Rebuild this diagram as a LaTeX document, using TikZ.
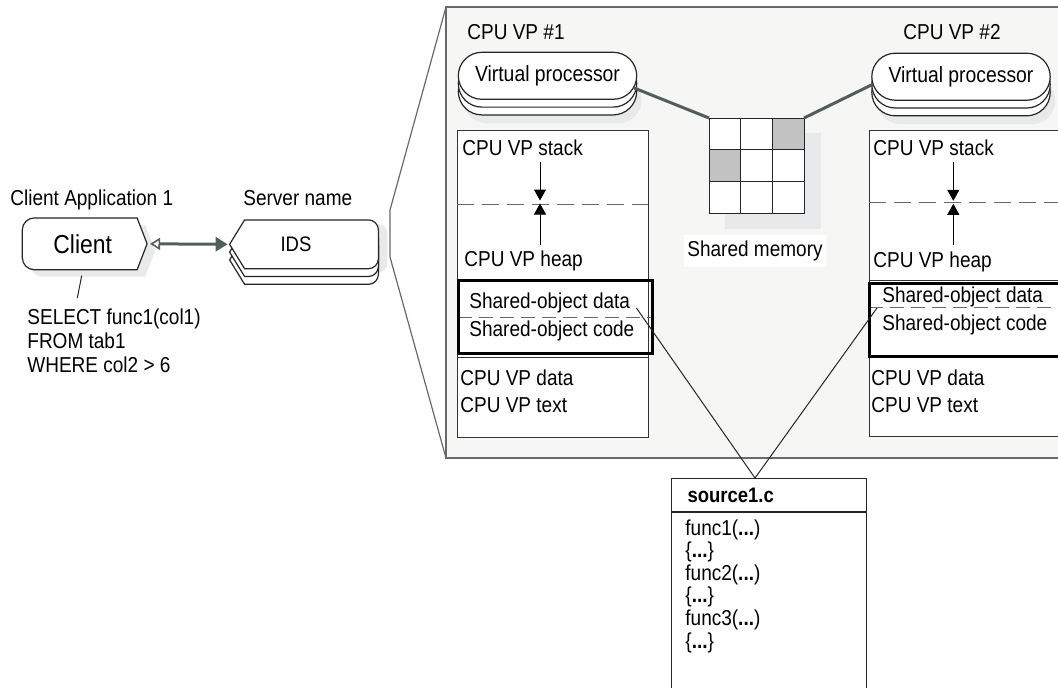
\documentclass[tikz,border=0pt]{standalone}
\usepackage{fontspec}
\setmainfont{Liberation Sans}[FakeStretch=0.88]
\usepackage{xcolor}
\usepackage{tikz}
\usetikzlibrary{arrows.meta, positioning, calc, shapes.misc, shadows, backgrounds}

\definecolor{panelfill}{RGB}{246,246,245}
\definecolor{panelline}{RGB}{105,105,105}
\definecolor{linkgray}{RGB}{82,94,92}
\definecolor{shadowgray}{RGB}{231,233,235}
\definecolor{cellgray}{RGB}{194,194,194}
\definecolor{dashgray}{RGB}{105,105,105}

\begin{document}
\begin{tikzpicture}[
    x=0.5pt, y=-0.5pt,
    txt/.style={inner sep=0pt, font=\fontsize{10.8}{12}\selectfont, anchor=base west},
    outline/.style={draw=black!85, fill=white, line width=0.6pt},
    vproc/.style={rounded rectangle, draw=black!85, fill=white, line width=0.6pt, minimum width=89.2pt, minimum height=23.5pt, inner sep=0pt, font=\fontsize{11}{13}\selectfont,
        general shadow={fill=shadowgray, shadow xshift=2.5pt, shadow yshift=-12pt},
        double copy shadow={shadow xshift=0pt, shadow yshift=-3.9pt}},
    membox/.style={draw=black!80, line width=0.5pt},
    sobox/.style={draw=black, line width=1.5pt},
    splitline/.style={dashgray, dash pattern=on 8.5pt off 4pt, line width=0.5pt},
    splitshort/.style={dashgray, dash pattern=on 7pt off 3.5pt, line width=0.5pt},
    growarrow/.style={-{Triangle[length=5.5pt, width=6pt]}, line width=0.5pt, shorten >=0.75pt},
    link/.style={linkgray, line width=1.5pt},
    cell/.style={draw=black!85, line width=0.5pt, minimum size=15.83pt, inner sep=0pt, outer sep=0pt},
    pointer/.style={black!85, line width=0.5pt}
]
\useasboundingbox (0,0) rectangle (1058,687);
\begin{scope}
\clip (0,0) rectangle (1058,687);

% Client side
\node[font=\fontsize{13}{15}\selectfont, minimum width=62pt, minimum height=25.5pt, inner sep=0pt] (client) at (84.7,243.8) {Client\kern2pt};
\node[font=\fontsize{10.5}{12}\selectfont, minimum width=74pt, minimum height=24pt, inner sep=0pt] (ids) at (304,244.3) {IDS\kern8pt};
\node[txt] (cliapp) at (10,205.7) {Client Application 1};
\node[txt] (srvname) at (243,205.7) {Server name};

\begin{scope}[on background layer]
  \fill[shadowgray, transform canvas={xshift=4pt, yshift=-3.5pt}] (client.east) -- ($(client.north east)+(-10,0)$) [rounded corners=6pt] -- (client.north west) -- (client.south west) [sharp corners] -- ($(client.south east)+(-10,0)$) -- cycle;
  \draw[outline] (client.east) -- ($(client.north east)+(-10,0)$) [rounded corners=6pt] -- (client.north west) -- (client.south west) [sharp corners] -- ($(client.south east)+(-10,0)$) -- cycle;
  \fill[shadowgray, transform canvas={xshift=4.5pt, yshift=-2pt}] (ids.west) -- ($(ids.north west)+(15,0)$) [rounded corners=5pt] -- (ids.north east) -- (ids.south east) [sharp corners] -- ($(ids.south west)+(15,0)$) -- cycle;
  \foreach \d in {7.8,3.9,0}
    \draw[outline, transform canvas={yshift=-\d*1pt}] (ids.west) -- ($(ids.north west)+(15,0)$) [rounded corners=5pt] -- (ids.north east) -- (ids.south east) [sharp corners] -- ($(ids.south west)+(15,0)$) -- cycle;
\end{scope}

\draw[link, {Triangle[length=5pt, width=6pt, line width=0.8pt, fill=white]}-{Triangle[length=6pt, width=7pt]}, shorten <=1.5pt, shorten >=1pt] (client.east) -- (ids.west);

% Query text
\node[txt] (sql1) at (27,324) {SELECT func1(col1)};
\node[txt] (sql2) at (27,348.5) {FROM tab1};
\node[txt] (sql3) at (27,372.5) {WHERE col2 > 6};
\coordinate (sqlpin) at (77.3,298);
\draw[pointer] ([xshift=-1.5pt, yshift=-3pt]client.south) -- (sqlpin);

% Magnified server panel
\fill[panelfill] (446,7) rectangle (1070,458);
\draw[panelline, line width=0.7pt] (1070,7) -- (446,7) -- (446,458) -- (1070,458);
\draw[panelline, line width=0.6pt] (446,7) -- (390,210) -- (390,257) -- (446,458);

% Virtual processors
\node[txt] (vp1lbl) at (467,39.3) {CPU VP \#1};
\node[txt] (vp2lbl) at (903,39.3) {CPU VP \#2};
\node[vproc] (vp1) at (547.5,75.8) {Virtual processor};
\node[vproc] (vp2) at (961,76.7) {Virtual processor};

% Shared memory
\fill[shadowgray] (725,133) rectangle (821,229);
\foreach \r/\c/\f in {0/0/white,0/1/white,0/2/cellgray,1/0/cellgray,1/1/white,1/2/white,2/0/white,2/1/white,2/2/white}
  \node[cell, fill=\f] (m\r\c) at ({709+31.67*(\c+0.5)},{118+31.67*(\r+0.5)}) {};
\node[txt, anchor=base, fill=white, inner xsep=1.5pt, inner ysep=3pt] (shmem) at (755,256.7) {Shared memory};
\draw[link] (vp1.-8) -- (m00.north west);
\draw[link] (m02.north east) -- (vp2.185);

% Memory of CPU VP #1
\fill[white] (457,130) rectangle (648,437);
\draw[membox] (457,130) rectangle (648,437);
\draw[splitline] (457,204) -- (648,204);
\node[txt] (stack1) at (462,155) {CPU VP stack};
\node[txt] (heap1) at (464,266) {CPU VP heap};
\coordinate (mid1) at (540,202);
\coordinate (top1) at (540,162);
\coordinate (bot1) at (540,245);
\draw[growarrow] (top1) -- (mid1);
\draw[growarrow] (bot1) -- (mid1);
\draw[membox] (457,357) -- (648,357);
\draw[splitshort] (458,317) -- (652,317);
\draw[sobox] (458,280) rectangle (652,353);
\node[txt] (sod1) at (469,308) {Shared-object data};
\node[txt] (soc1) at (469,336.7) {Shared-object code};
\node[txt] (dat1) at (460,385) {CPU VP data};
\node[txt] (txt1) at (460,412.7) {CPU VP text};

% Memory of CPU VP #2
\fill[white] (869,130) rectangle (1070,436);
\draw[membox] (869,130) rectangle (1070,436);
\draw[splitline] (869,202.3) -- (1070,202.3);
\node[txt] (stack2) at (873,155) {CPU VP stack};
\node[txt] (heap2) at (873,267) {CPU VP heap};
\coordinate (mid2) at (953.3,202.3);
\coordinate (top2) at (953.3,162);
\coordinate (bot2) at (953.3,245);
\draw[growarrow] (top2) -- (mid2);
\draw[growarrow] (bot2) -- (mid2);
\draw[membox] (869,280) -- (1070,280);
\draw[splitshort] (869,307) -- (1075,307);
\draw[sobox] (869,283) rectangle (1075,356);
\node[txt] (sod2) at (882,302) {Shared-object data};
\node[txt] (soc2) at (882,330) {Shared-object code};
\node[txt] (dat2) at (871,385) {CPU VP data};
\node[txt] (txt2) at (871,412) {CPU VP text};

% Source file
\node[draw=black!85, line width=0.5pt, anchor=north west, minimum width=97.5pt, minimum height=16.5pt, inner xsep=8pt, inner ysep=0pt, text width=81.5pt, align=left, font=\fontsize{10.5}{12}\selectfont\bfseries] (srchead) at (671,478) {source1.c};
\draw[black!85, line width=0.5pt] (srchead.south west) rectangle ++(195,200);
\foreach \t [count=\i from 0] in {func1(\textbf{...}), \{\textbf{...}\}, func2(\textbf{...}), \{\textbf{...}\}, func3(\textbf{...}), \{\textbf{...}\}}
  \node[txt] (item\i) at (685,{535+22.6*\i}) {\t};
\coordinate (srctop) at ($(srchead.north west)+(84,0)$);
\draw[pointer] ([xshift=3pt]sod1.base east) -- (srctop);
\draw[pointer] ([xshift=-2.5pt, yshift=-3pt]sod2.base west) -- (srctop);

\end{scope}
\end{tikzpicture}
\end{document}
